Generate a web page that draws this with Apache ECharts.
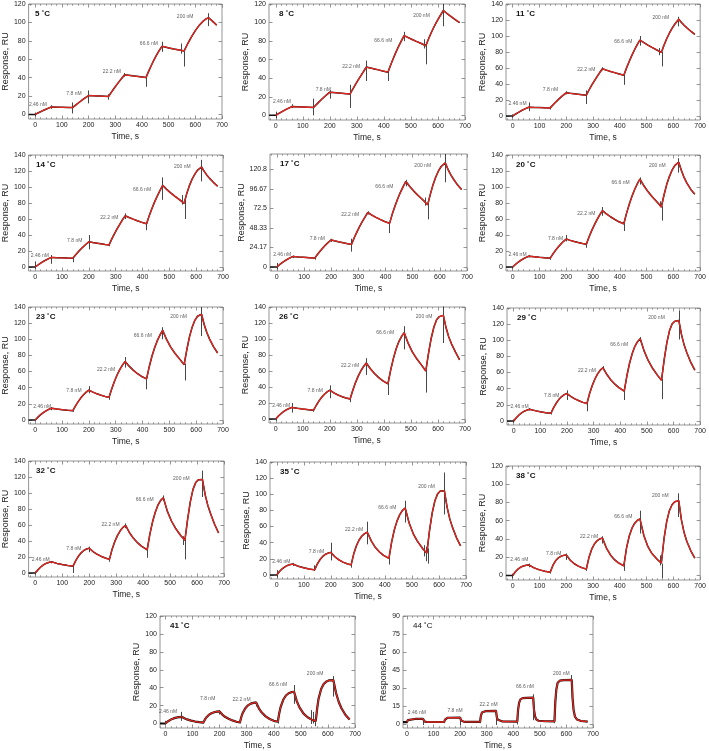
<!DOCTYPE html>
<html>
<head>
<meta charset="utf-8">
<script src="https://cdn.jsdelivr.net/npm/echarts@6/dist/echarts.min.js"></script>
<style>html,body{margin:0;padding:0;background:#fff}#c{width:709px;height:751px}</style>
</head>
<body>
<div id="c"></div>
<script>
// ---------- DATA ----------
const temps = ['5', '8', '11', '14', '17', '20', '23', '26', '29', '32', '35', '38', '41', '44'];
const concLabels = ['2.46 nM', '7.8 nM', '22.2 nM', '66.6 nM', '200 nM'];
const xTickLabels = [0, 100, 200, 300, 400, 500, 600, 700];
const yTicks120 = [0, 20, 40, 60, 80, 100, 120];
const yTicks140 = [0, 20, 40, 60, 80, 100, 120, 140];
const yTicks17 = [0, 24.17, 48.33, 72.5, 96.67, 120.8];
const yTicks90 = [0, 15, 30, 45, 60, 75, 90];

// fitted curves [time s, response RU]
const fit5 = [[0,0],[10,1.5],[20,2.9],[30,4.3],[40,5.6],[50,6.8],[60,8],[80,7.85],[100,7.7],[120,7.55],[140,7.4],[150,9.8],[160,12.1],[170,14.3],[180,16.5],[190,18.5],[200,20.5],[215,20.3],[230,20.1],[245,19.9],[260,19.7],[275,19.5],[285,23.9],[295,28.1],[305,32.1],[315,35.9],[325,39.5],[335,43],[350,42.5],[365,41.9],[380,41.4],[395,40.8],[415,40],[425,46.8],[435,53.2],[445,59.2],[455,64.6],[465,69.6],[475,74],[490,73],[505,72],[520,71],[540,70],[558,69],[570,76],[585,84],[600,91],[615,97],[630,101.5],[640,103.8],[650,105],[660,102.5],[670,99.8],[680,97]];
const fit8 = [[0,0],[10,1.8],[20,3.5],[30,5.1],[40,6.7],[50,8.1],[60,9.5],[80,9.25],[100,9],[120,8.75],[140,8.5],[150,11.6],[160,14.5],[170,17.3],[180,20],[190,22.6],[200,25],[215,24.6],[230,24.2],[245,23.8],[260,23.4],[275,23],[285,28.4],[295,33.5],[305,38.3],[315,42.9],[325,47.5],[335,52],[350,51],[365,50],[380,49],[395,47.9],[415,46.5],[425,54.3],[435,61.6],[445,68.4],[455,74.7],[465,80.5],[475,86],[490,83.8],[505,81.7],[520,79.7],[540,77.2],[555,75],[565,82.3],[575,89],[585,95.2],[595,100.8],[605,105.8],[620,113],[630,110.6],[640,108.3],[650,106.2],[665,103],[680,100]];
const fit11 = [[0,0],[10,2.2],[20,4.3],[30,6.2],[40,7.9],[50,9.5],[60,11],[80,10.7],[100,10.5],[120,10.2],[140,10],[150,13.7],[160,17.2],[170,20.5],[180,23.6],[190,26.4],[200,29],[215,28.3],[230,27.7],[245,27.1],[260,26.5],[275,26],[285,32.5],[295,38.5],[305,44],[315,49.3],[325,54.3],[335,59],[350,57.3],[365,55.7],[380,54.2],[395,52.8],[415,51],[425,60],[435,68.2],[445,75.8],[455,82.8],[465,89.2],[475,95],[490,91.6],[505,88.5],[520,85.7],[540,82.2],[555,79.5],[565,88.5],[575,96.5],[585,103.5],[595,109.5],[605,114.7],[620,121],[630,117],[640,113.5],[650,110.3],[665,106],[680,102]];
const fit14 = [[0,0],[10,2.5],[20,4.8],[30,6.9],[40,8.8],[50,10.5],[60,12],[80,11.7],[100,11.5],[120,11.2],[140,11],[150,15.1],[160,18.9],[170,22.4],[180,25.7],[190,28.7],[200,31.5],[215,30.6],[230,29.8],[245,29],[260,28.2],[275,27.5],[285,34.8],[295,41.5],[305,47.6],[315,53.3],[325,58.8],[335,64],[350,61.8],[365,59.8],[380,57.9],[395,56.1],[415,54],[425,64.2],[435,73.2],[445,81.4],[455,88.8],[465,95.6],[475,102],[490,97],[505,92.6],[520,88.6],[540,83.6],[555,79.5],[565,92],[575,102],[585,110],[595,116],[605,121],[620,125],[630,119.5],[640,114.8],[650,110.8],[665,105.5],[680,101]];
const fit17 = [[0,0],[10,2.8],[20,5.4],[30,7.7],[40,9.7],[50,11.5],[60,13],[80,12.4],[100,11.9],[120,11.4],[140,11],[150,15.7],[160,19.9],[170,23.8],[180,27.4],[190,30.6],[200,33.5],[215,32.2],[230,31],[245,29.9],[260,28.9],[275,28],[285,36.2],[295,43.5],[305,50.2],[315,56.4],[325,62.1],[335,67.5],[350,64.3],[365,61.5],[380,59],[395,56.6],[415,54],[425,65.5],[435,75.5],[445,84.5],[455,92.5],[465,99.6],[475,106],[490,99.5],[505,93.7],[520,88.6],[540,82.3],[555,77],[565,90],[575,102],[585,111.5],[595,119],[605,124.5],[620,129],[630,121],[640,114.5],[650,109],[665,101.8],[680,96]];
const fit20 = [[0,0],[10,3.1],[20,5.9],[30,8.3],[40,10.3],[50,12.1],[60,13.5],[80,12.8],[100,12.1],[120,11.5],[140,11],[150,16.2],[160,20.8],[170,25],[180,28.8],[190,32.1],[200,35],[215,33.3],[230,31.8],[245,30.5],[260,29.4],[275,28.5],[285,37.6],[295,45.5],[305,52.6],[315,59.2],[325,65.1],[335,70.5],[350,66.4],[365,62.8],[380,59.7],[395,56.8],[415,54],[425,67],[435,78.2],[445,88],[455,96.6],[465,103.8],[475,110],[490,101.5],[505,94.3],[520,88.2],[540,80.8],[555,75],[565,90],[575,103],[585,113],[595,121],[605,126.8],[620,131],[630,120.5],[640,112],[650,105.2],[665,97],[680,91]];
const fit23 = [[0,0],[10,3.5],[20,6.6],[30,9.2],[40,11.3],[50,13.1],[60,14.5],[80,13.6],[100,12.8],[120,12.1],[140,11.5],[150,17.5],[160,22.8],[170,27.4],[180,31.3],[190,34.5],[200,37],[215,34.5],[230,32.4],[245,30.7],[260,29.2],[275,28],[285,38.5],[295,47.7],[305,55.7],[315,62.4],[325,68],[335,72.5],[350,66.7],[365,61.8],[380,57.6],[395,54.2],[415,51],[425,66],[435,79],[445,89.5],[455,98.3],[465,105.3],[475,111],[490,99.5],[505,90.3],[520,83],[540,74.8],[555,68.5],[565,87],[575,103],[585,115],[595,123.5],[605,128.5],[620,131],[630,118],[640,108],[650,100.2],[665,90.6],[680,83]];
const fit26 = [[0,0],[10,3.7],[20,6.9],[30,9.5],[40,11.6],[50,13.2],[60,14.5],[80,13.4],[100,12.5],[120,11.7],[140,11],[150,17.2],[160,22.6],[170,27.2],[180,31],[190,33.9],[200,36],[215,32.7],[230,30],[245,27.9],[260,26.3],[275,25],[285,36],[295,45.5],[305,53.6],[315,60.3],[325,65.7],[335,70],[350,62.8],[365,56.9],[380,52],[395,48],[415,44],[425,61],[435,75.5],[445,87.5],[455,96.5],[465,103],[475,108],[490,94.5],[505,84],[520,76],[540,67],[555,60],[565,82],[575,101],[585,115],[595,124],[605,128],[620,129.5],[630,114],[640,102.5],[650,94],[665,83.5],[680,74]];
const fit29 = [[0,0],[10,4],[20,7.4],[30,10.1],[40,12.1],[50,13.5],[60,14.5],[80,12.8],[100,11.4],[120,10.3],[140,9.5],[150,16.5],[160,22.2],[170,26.8],[180,30.2],[190,32.6],[200,34],[215,30.3],[230,27.3],[245,25],[260,23],[275,21.5],[285,34],[295,44],[305,52],[315,58.3],[325,63],[335,66],[350,57.5],[365,50.8],[380,45.6],[395,41.3],[415,37],[425,56],[435,71.5],[445,83.5],[455,92.5],[465,98.3],[475,102],[490,86.5],[505,75],[520,66],[540,56.5],[555,50.5],[565,76],[575,97],[585,112],[595,120.5],[605,123.5],[620,124.5],[630,107],[640,94],[650,84.5],[665,72.5],[680,63]];
const fit32 = [[0,0],[10,4.1],[20,7.5],[30,10.1],[40,12],[50,13.2],[60,14],[80,12],[100,10.5],[120,9.4],[140,8.5],[150,15.5],[160,21],[170,25.2],[180,28.2],[190,30],[200,31],[215,26.5],[230,23.2],[245,20.7],[260,18.7],[275,17],[285,29.8],[295,39.5],[305,47],[315,52.8],[325,57],[335,59.5],[350,50],[365,43],[380,37.6],[395,33.2],[415,29],[425,48.5],[435,64],[445,76],[455,85],[465,90.8],[475,94],[490,77],[505,65],[520,56],[540,46.5],[555,41],[565,67],[575,89],[585,104.5],[595,113],[605,116.5],[620,117],[630,98],[640,84.5],[650,74.5],[665,61],[680,50]];
const fit35 = [[0,0],[10,4.2],[20,7.6],[30,10.1],[40,11.9],[50,12.9],[60,13.5],[80,10.8],[100,8.9],[120,7.4],[140,6.3],[150,13.6],[160,19.1],[170,23],[180,25.6],[190,27.1],[200,28],[215,22.6],[230,18.7],[245,15.9],[260,13.9],[275,12.5],[285,26.5],[295,36.5],[305,43.6],[315,48.3],[325,51.3],[335,53],[350,42],[365,34],[380,28.5],[395,24.2],[415,20.5],[425,41],[435,56],[445,67],[455,74.8],[465,80],[475,83],[490,64],[505,51],[520,42],[540,32.5],[555,27],[565,55],[575,77],[585,92],[595,100.5],[605,104],[620,104.5],[630,84],[640,69.5],[650,59],[665,46],[680,36]];
const fit38 = [[0,0],[10,4],[20,7],[30,9.1],[40,10.4],[50,11.1],[60,11.5],[80,8.3],[100,6.1],[120,4.6],[140,3.5],[150,11],[160,16],[170,19.2],[180,21],[190,22],[200,22.5],[215,16.7],[230,12.8],[245,10.2],[260,8.3],[275,7],[285,20],[295,28.8],[305,34.5],[315,38],[325,40],[335,41],[350,30],[365,22.5],[380,17.3],[395,13.7],[415,10.5],[425,30],[435,43],[445,51.5],[455,57],[465,60.3],[475,62],[490,43.5],[505,31.5],[520,24],[540,17.5],[555,13.5],[565,40],[575,59],[585,71],[595,77.5],[605,80.8],[620,82],[630,61],[640,47],[650,37.5],[665,27],[680,19]];
const fit41 = [[0,0],[10,2.6],[20,4.4],[30,5.7],[40,6.6],[50,7.2],[60,7.5],[70,5.9],[80,4.6],[95,3.2],[110,2.2],[125,1.5],[140,1],[145,4],[150,6.5],[160,9.6],[170,11.5],[180,12.6],[190,13.2],[200,13.5],[210,10],[220,7.5],[235,5],[250,3.2],[262,2],[275,1.2],[280,7],[285,11.5],[295,17],[305,20.3],[315,22.2],[325,23.1],[335,23.5],[345,17],[355,12.5],[370,8],[385,5],[400,3],[415,2],[420,11],[425,18],[435,26.5],[445,31.3],[455,33.8],[465,35],[475,35.5],[485,25],[495,18],[510,11],[525,7],[540,4.3],[555,2.7],[560,16],[565,27],[575,38.5],[585,44.3],[595,47],[605,48.2],[620,48.5],[630,34],[640,24],[650,17],[665,9.5],[680,4.5]];
const fit44 = [[0,1.8],[3,3.5],[6,4.2],[10,4.4],[30,4.5],[60,4.5],[63,3],[67,2.3],[75,2],[100,2],[140,2],[143,4],[147,5.2],[152,5.5],[200,5.6],[203,3.5],[208,2.5],[215,2.1],[275,2.1],[278,7],[282,9.8],[287,10.8],[295,11],[335,11.2],[338,6],[342,3.8],[348,2.8],[360,2.4],[415,2.3],[418,12],[422,18],[427,20.8],[435,21.8],[450,22],[475,22.2],[478,12],[482,6.5],[487,4],[495,3],[520,2.6],[555,2.5],[558,18],[562,29],[567,34.5],[575,36.3],[590,36.8],[620,37],[623,22],[627,12],[632,6.5],[640,4],[655,2.8],[680,2.3]];
const fits = [fit5, fit8, fit11, fit14, fit17, fit20, fit23, fit26, fit29, fit32, fit35, fit38, fit41, fit44];

// pre-injection baseline of the measured trace [start time, level]
const baselines = [[-25,0],[-25,0],[-25,0],[-25,0],[-25,0],[-25,0],[-25,0],[-25,0],[-25,0],[-25,0],[-25,0],[-25,0],[-20,0],[-15,1.8]];

// injection spikes in the measured trace [time, low, high]
const spk5 = [[0,-2,2],[60,6,10],[140,1,13],[200,12,26],[275,16,22],[335,41,45],[415,30,40],[475,68,79],[549,66,77],[559,52,70],[650,96,110]];
const spk8 = [[0,-3,4],[60,8,12],[140,0,18],[200,18,27],[275,8,33],[335,37,59],[415,37,47],[475,80,90],[550,72,82],[558,55,78],[620,96,120]];
const spk11 = [[0,-2,2],[60,6,17],[140,8,12],[200,27,31],[275,15,32],[335,57,61],[415,39,53],[475,88,100],[547,76,85],[558,62,80],[620,112,124]];
const spk14 = [[0,-2,7],[60,4,15],[140,6,12],[200,22,40],[275,26,30],[335,60,67],[415,46,56],[475,84,112],[547,78,90],[558,60,85],[620,107,134]];
const spk17 = [[0,-3,5],[60,11,14],[140,9,12],[200,31,35],[275,19,35],[335,65,69],[415,42,55],[475,100,108],[547,76,86],[558,59,81],[620,105,140]];
const spk20 = [[0,-2,1],[60,12,15],[140,9,12],[200,32,40],[275,24,31],[335,64,75],[415,45,56],[475,103,112],[550,75,82],[558,58,76],[620,118,136]];
const spk23 = [[0,-1,1],[60,12,16],[140,10,13],[200,33,42],[275,25,30],[335,65,78],[415,38,53],[475,100,115],[558,49,70],[620,104,140]];
const spk26 = [[0,-2,2],[60,8,20],[140,9,12],[200,26,42],[275,21,27],[335,55,76],[415,30,52],[475,87,116],[558,33,62],[620,95,141]];
const spk29 = [[0,-2,2],[60,13,16],[140,8,11],[200,26,38],[275,12,25],[335,63,68],[415,26,40],[475,98,104],[558,27,52],[620,101,137]];
const spk32 = [[0,-2,2],[60,12,15],[140,0,9],[200,26,33],[275,14,20],[335,56,62],[415,19,30],[475,90,97],[550,35,46],[558,17,42],[620,95,128]];
const spk35 = [[0,-3,6],[60,11,15],[140,5,12],[200,18,40],[275,9,15],[335,38,66],[415,13,23],[475,65,92],[545,23,37],[553,17,35],[560,14,33],[620,75,127]];
const spk38 = [[0,-3,2],[60,9,13],[140,2,5],[200,17,24],[275,5,8],[335,35,43],[415,5,14],[475,46,71],[550,11,22],[558,-3,13],[620,64,90]];
const spk41 = [[0,-1,3],[60,3,13],[140,0,2],[200,10,15],[275,0,3],[335,19,24],[415,0,4],[475,22,43],[537,-0.5,15],[545,0,13],[553,-3,4],[620,30,53]];
const spk44 = [[0,1,3],[60,-0.5,4.8],[140,1,4],[200,-0.5,6],[275,1,3],[335,-0.5,12],[415,0,10],[475,3.5,25],[555,1,8],[620,36,41]];
const spikes = [spk5, spk8, spk11, spk14, spk17, spk20, spk23, spk26, spk29, spk32, spk35, spk38, spk41, spk44];

// concentration annotation anchors [time, response]
const lab5 = [[10,11],[145,23],[287,46],[426,77],[562,106]];
const lab8 = [[23,15],[176,28],[279,52],[398,80],[539,108]];
const lab11 = [[18,16],[141,32.5],[275,58],[413,93],[553,123]];
const lab14 = [[17,14],[147,33],[276,62],[398,96.5],[548,125]];
const lab17 = [[20,15.7],[149,34.6],[270,65],[396,99],[537,125]];
const lab20 = [[18,16],[160,35],[275,67],[403,105],[540,127]];
const lab23 = [[26,17],[144,36],[264,63],[401,104],[534,128]];
const lab26 = [[20,16.7],[146,36],[275,67],[405,107.5],[549,128]];
const lab29 = [[22,17.5],[143,32],[275,62],[396,94],[536,127.5]];
const lab32 = [[20,16.6],[143,31],[279,60],[406,92],[542,118]];
const lab35 = [[17,16.6],[147,29],[286,56],[409,83],[554,109]];
const lab38 = [[25,17],[153,24],[285,43],[413,65],[551,88]];
const lab41 = [[10,13],[156,28],[281,27],[416,43],[553,56]];
const lab44 = [[37,10],[181,11.5],[307,16],[444,31],[581,42]];
const labs = [lab5, lab8, lab11, lab14, lab17, lab20, lab23, lab26, lab29, lab32, lab35, lab38, lab41, lab44];

const yTickSets = [yTicks120, yTicks120, yTicks140, yTicks140, yTicks17, yTicks140, yTicks140, yTicks140, yTicks140, yTicks140, yTicks140, yTicks120, yTicks120, yTicks90];

// ---------- LAYOUT (pixels / axis ranges) ----------
const layouts = [
  {l:25, t:4,   w:197, h:115, xmin:-25, ymin:-5, ymax:120},
  {l:269,t:4,   w:196, h:116, xmin:-25, ymin:-5, ymax:120},
  {l:506,t:4,   w:197, h:116, xmin:-25, ymin:-5, ymax:140},
  {l:26, t:155, w:197, h:116, xmin:-25, ymin:-5, ymax:140},
  {l:270,t:154, w:197, h:117, xmin:-25, ymin:-5, ymax:140},
  {l:506,t:155, w:197, h:116, xmin:-25, ymin:-5, ymax:140},
  {l:26, t:307, w:197, h:117, xmin:-25, ymin:-5, ymax:140},
  {l:269,t:307, w:196, h:116, xmin:-25, ymin:-5, ymax:140},
  {l:507,t:308, w:196, h:117, xmin:-25, ymin:-5, ymax:140},
  {l:26, t:461, w:198, h:116, xmin:-25, ymin:-5, ymax:140},
  {l:270,t:462, w:196, h:117, xmin:-25, ymin:-5, ymax:140},
  {l:506,t:466, w:195, h:114, xmin:-25, ymin:-5, ymax:120},
  {l:160,t:616, w:195, h:117, xmin:-20, ymin:-5, ymax:120},
  {l:403,t:616, w:190, h:116, xmin:-15, ymin:-3, ymax:90}
];

const FONT = '"Liberation Sans", Arial, Helvetica, sans-serif';
const RED = '#e4261f';
const FRAME = '#7a7a7a';

function minorTicks(min, max) {
  const out = [];
  for (let v = Math.ceil(min / 20) * 20; v <= max; v += 20) if (v % 100 !== 0) out.push(v);
  return out;
}

const grid = [], xAxis = [], yAxis = [], series = [], title = [];
layouts.forEach((L, i) => {
  grid.push({left: L.l, top: L.t, width: L.w, height: L.h, show: true, borderColor: FRAME, borderWidth: 0.8, backgroundColor: 'transparent', containLabel: false});
  const mt = minorTicks(L.xmin, 700);
  const baseX = {gridIndex: i, type: 'value', min: L.xmin, max: 700, splitLine: {show: false}, axisLine: {show: false, onZero: false}};
  xAxis.push(Object.assign({}, baseX, {
    position: 'bottom',
    axisTick: {show: true, inside: true, length: 3.5, customValues: xTickLabels, lineStyle: {color: FRAME, width: 0.8}},
    axisLabel: {show: true, customValues: xTickLabels, fontSize: 7, color: '#222', margin: 3, fontFamily: FONT},
    name: 'Time, s', nameLocation: 'middle', nameGap: 13,
    nameTextStyle: {fontSize: 8.5, color: '#222', fontFamily: FONT}
  }));
  xAxis.push(Object.assign({}, baseX, {
    position: 'bottom',
    axisTick: {show: true, inside: true, length: 1.8, customValues: mt, lineStyle: {color: FRAME, width: 0.7}},
    axisLabel: {show: false}
  }));
  xAxis.push(Object.assign({}, baseX, {
    position: 'top',
    axisTick: {show: true, inside: true, length: 3.5, customValues: xTickLabels, lineStyle: {color: FRAME, width: 0.8}},
    axisLabel: {show: false}
  }));
  xAxis.push(Object.assign({}, baseX, {
    position: 'top',
    axisTick: {show: true, inside: true, length: 1.8, customValues: mt, lineStyle: {color: FRAME, width: 0.7}},
    axisLabel: {show: false}
  }));
  const yt = yTickSets[i];
  const baseY = {gridIndex: i, type: 'value', min: L.ymin, max: L.ymax, splitLine: {show: false}, axisLine: {show: false, onZero: false}};
  yAxis.push(Object.assign({}, baseY, {
    position: 'left',
    axisTick: {show: true, inside: true, length: 3.5, customValues: yt, lineStyle: {color: FRAME, width: 0.8}},
    axisLabel: {show: true, customValues: yt, fontSize: 7, color: '#222', margin: 3, fontFamily: FONT},
    name: 'Response, RU', nameLocation: 'middle', nameGap: (i === 4 ? 23 : 13),
    nameTextStyle: {fontSize: 9, color: '#222', fontFamily: FONT}
  }));
  yAxis.push(Object.assign({}, baseY, {
    position: 'right',
    axisTick: {show: true, inside: true, length: 3.5, customValues: yt, lineStyle: {color: FRAME, width: 0.8}},
    axisLabel: {show: false}
  }));

  const xi = 4 * i, yi = 2 * i;
  const measured = [baselines[i]].concat(fits[i]);
  series.push({type: 'line', xAxisIndex: xi, yAxisIndex: yi, data: measured, showSymbol: false, symbol: 'none',
    lineStyle: {color: '#111', width: (i >= 12 ? 2.2 : 1.5)}, silent: true, z: 2, animation: false});
  series.push({type: 'lines', coordinateSystem: 'cartesian2d', xAxisIndex: xi, yAxisIndex: yi,
    data: spikes[i].map(s => ({coords: [[s[0], s[1]], [s[0], s[2]]]})),
    lineStyle: {color: '#333', width: 1, opacity: 0.9}, silent: true, z: 3, animation: false});
  series.push({type: 'line', xAxisIndex: xi, yAxisIndex: yi, data: fits[i], showSymbol: false, symbol: 'none',
    lineStyle: {color: RED, width: 1.3}, silent: true, z: 4, animation: false});
  series.push({type: 'scatter', xAxisIndex: xi, yAxisIndex: yi, symbolSize: 0, silent: true, z: 5, animation: false,
    data: labs[i].map((p, k) => ({value: p, label: {formatter: concLabels[k]}})),
    label: {show: true, position: 'inside', fontSize: 5, color: '#333', fontFamily: FONT}});
  title.push({text: temps[i] + ' \u02DAC', left: L.l + 10, top: L.t + 6, padding: 0,
    textStyle: {fontSize: 8, fontWeight: (i === 13 ? 'normal' : 'bold'), color: '#111', fontFamily: FONT}});
});

const chart = echarts.init(document.getElementById('c'), null, {renderer: 'canvas'});
chart.setOption({animation: false, title, grid, xAxis, yAxis, series});
</script>
</body>
</html>
